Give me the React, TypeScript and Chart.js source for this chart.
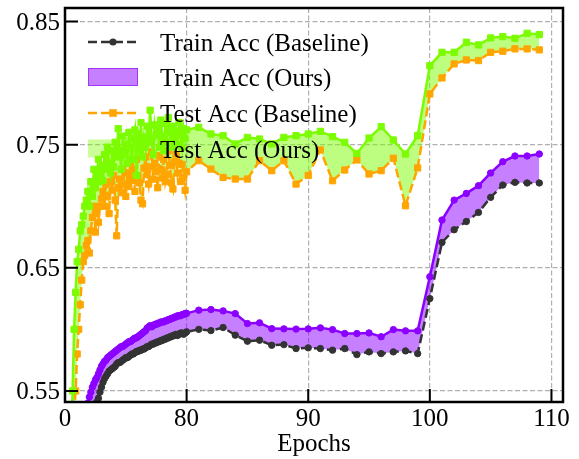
import React, { useEffect, useRef } from 'react';
import { Chart, registerables } from 'chart.js';

Chart.register(...registerables);

const FONT = 'Liberation Serif';

// epochs 1..109
const epochs: number[] = Array.from({ length: 109 }, (_, i) => i + 1);

const trainBaseline: number[] = [
  0.28, 0.33, 0.37, 0.40, 0.425, 0.445, 0.46, 0.473, 0.484, 0.493,
  0.501, 0.508, 0.514, 0.519, 0.524, 0.528, 0.531, 0.534, 0.536, 0.539,
  0.541, 0.544, 0.549, 0.553, 0.557, 0.560, 0.562, 0.564, 0.566, 0.567,
  0.568, 0.569, 0.570, 0.572, 0.573, 0.573, 0.574, 0.575, 0.576, 0.577,
  0.577, 0.578, 0.579, 0.580, 0.580, 0.581, 0.582, 0.582, 0.583, 0.583,
  0.584, 0.584, 0.585, 0.586, 0.586, 0.587, 0.588, 0.588, 0.589, 0.589,
  0.590, 0.590, 0.591, 0.591, 0.592, 0.592, 0.593, 0.593, 0.594, 0.594,
  0.595, 0.595, 0.596, 0.595, 0.596, 0.597, 0.597, 0.596, 0.597, 0.598,
  0.600, 0.599, 0.6015, 0.5953, 0.5904, 0.5912, 0.5871, 0.5876, 0.5844, 0.585,
  0.5844, 0.5831, 0.5844, 0.5795, 0.5817, 0.5803, 0.5817, 0.5825, 0.5803, 0.625,
  0.6706, 0.6809, 0.6876, 0.695, 0.7072, 0.7172, 0.7194, 0.7189, 0.7189,
];

const trainOurs: number[] = [
  0.33, 0.38, 0.42, 0.45, 0.47, 0.485, 0.498, 0.508, 0.516, 0.522,
  0.527, 0.531, 0.535, 0.538, 0.540, 0.545, 0.549, 0.553, 0.556, 0.559,
  0.561, 0.564, 0.567, 0.570, 0.572, 0.574, 0.575, 0.577, 0.578, 0.579,
  0.580, 0.581, 0.582, 0.583, 0.584, 0.585, 0.586, 0.586, 0.587, 0.588,
  0.589, 0.590, 0.590, 0.591, 0.592, 0.593, 0.593, 0.594, 0.595, 0.596,
  0.597, 0.598, 0.599, 0.601, 0.602, 0.603, 0.602, 0.603, 0.604, 0.604,
  0.605, 0.605, 0.606, 0.606, 0.606, 0.607, 0.607, 0.608, 0.608, 0.609,
  0.609, 0.610, 0.610, 0.611, 0.611, 0.611, 0.612, 0.612, 0.613, 0.613,
  0.6156, 0.6161, 0.615, 0.6128, 0.6047, 0.6053, 0.6006, 0.6004, 0.6002, 0.6004,
  0.6012, 0.5998, 0.5966, 0.5966, 0.5971, 0.594, 0.5998, 0.5988, 0.5988, 0.6427,
  0.6888, 0.705, 0.7104, 0.7167, 0.727, 0.7362, 0.7408, 0.7408, 0.7424,
];

const testBaseline: number[] = [
  0.30, 0.38, 0.44, 0.49, 0.52, 0.535, 0.55, 0.58, 0.60, 0.62,
  0.64, 0.655, 0.66, 0.668, 0.672, 0.662, 0.68, 0.691, 0.70, 0.679,
  0.695, 0.687, 0.70, 0.706, 0.712, 0.70, 0.718, 0.708, 0.694, 0.72,
  0.713, 0.725, 0.705, 0.676, 0.715, 0.722, 0.711, 0.73, 0.718, 0.708,
  0.727, 0.716, 0.735, 0.721, 0.73, 0.712, 0.738, 0.725, 0.719, 0.705,
  0.702, 0.731, 0.74, 0.726, 0.718, 0.732, 0.744, 0.722, 0.735, 0.728,
  0.715, 0.741, 0.73, 0.723, 0.738, 0.72, 0.726, 0.745, 0.733, 0.719,
  0.714, 0.736, 0.742, 0.727, 0.735, 0.72, 0.734, 0.723, 0.713, 0.728,
  0.737, 0.7302, 0.7234, 0.7221, 0.7221, 0.737, 0.7289, 0.737, 0.718, 0.725,
  0.7457, 0.7207, 0.7294, 0.7376, 0.7262, 0.7289, 0.739, 0.7004, 0.7311, 0.7912,
  0.8042, 0.8156, 0.8188, 0.8183, 0.825, 0.8259, 0.8278, 0.8278, 0.827,
];

const testOurs: number[] = [
  0.28, 0.36, 0.44, 0.51, 0.55, 0.60, 0.63, 0.655, 0.665, 0.68,
  0.685, 0.692, 0.70, 0.705, 0.712, 0.70, 0.72, 0.708, 0.73, 0.715,
  0.725, 0.738, 0.72, 0.733, 0.721, 0.742, 0.73, 0.748, 0.735, 0.727,
  0.745, 0.732, 0.752, 0.74, 0.763, 0.745, 0.73, 0.757, 0.742, 0.75,
  0.735, 0.76, 0.748, 0.738, 0.755, 0.762, 0.725, 0.759, 0.745, 0.768,
  0.74, 0.756, 0.748, 0.765, 0.752, 0.778, 0.755, 0.742, 0.766, 0.758,
  0.764, 0.748, 0.77, 0.757, 0.745, 0.767, 0.752, 0.772, 0.76, 0.748,
  0.765, 0.755, 0.761, 0.75, 0.768, 0.758, 0.748, 0.763, 0.755, 0.762,
  0.7641, 0.7587, 0.7573, 0.7506, 0.7559, 0.7546, 0.7506, 0.7559, 0.7573, 0.7587,
  0.7608, 0.7565, 0.7519, 0.7429, 0.7554, 0.7646, 0.7538, 0.7424, 0.7573, 0.8142,
  0.825, 0.825, 0.8332, 0.831, 0.8367, 0.8378, 0.8364, 0.8405, 0.8394,
];

const xTickPositions: number[] = [0, 10, 20, 30, 40];
const xTickLabels: string[] = ['0', '80', '90', '100', '110'];
const yTickValues: number[] = [0.55, 0.65, 0.75, 0.85];
const yTickLabels: string[] = ['0.55', '0.65', '0.75', '0.85'];
const legendLabels: string[] = [
  'Train Acc (Baseline)',
  'Train Acc (Ours)',
  'Test Acc (Baseline)',
  'Test Acc (Ours)',
];
const xTitle = 'Epochs';

// broken x axis: epochs 0..80 squeezed into one tick interval
const BREAK = 80;
const COMPRESS = 8;
const axisPos = (e: number) => (e <= BREAK ? e / COMPRESS : e - BREAK + BREAK / COMPRESS);

const toPoints = (vals: number[]) => epochs.map((e, i) => ({ x: axisPos(e), y: vals[i] }));

const C_BLACK = '#333333';
const C_PURPLE = '#8b00ff';
const C_PURPLE_FILL = 'rgba(139,0,255,0.5)';
const C_ORANGE = '#ffa500';
const C_GREEN = '#7cfc00';
const C_GREEN_FILL = 'rgba(124,252,0,0.5)';

const framePlugin = {
  id: 'frameAndTicks',
  afterDraw(chart: any) {
    const { ctx, chartArea } = chart;
    const { left, right, top, bottom } = chartArea;
    const xs = chart.scales.x;
    const ys = chart.scales.y;
    ctx.save();
    ctx.strokeStyle = '#000';
    ctx.lineWidth = 2;
    ctx.setLineDash([]);
    ctx.beginPath();
    yTickValues.forEach((v) => {
      const py = ys.getPixelForValue(v);
      ctx.moveTo(left, py);
      ctx.lineTo(left + 13, py);
    });
    xTickPositions.forEach((v) => {
      const px = xs.getPixelForValue(v);
      ctx.moveTo(px, bottom);
      ctx.lineTo(px, bottom - 13);
    });
    ctx.stroke();
    ctx.lineWidth = 2.5;
    ctx.strokeRect(left, top, right - left, bottom - top);
    ctx.restore();
  },
};

const legendPlugin = {
  id: 'customLegend',
  afterDraw(chart: any) {
    const ctx = chart.ctx;
    const x0 = 88;
    const x1 = 138;
    const xm = 113;
    const tx = 160;
    const rows = [42, 77, 113, 148.5];
    ctx.save();
    // row 1: dashed black line with circle
    ctx.strokeStyle = C_BLACK;
    ctx.lineWidth = 2.5;
    ctx.setLineDash([9, 4]);
    ctx.beginPath();
    ctx.moveTo(x0, rows[0]);
    ctx.lineTo(x1, rows[0]);
    ctx.stroke();
    ctx.setLineDash([]);
    ctx.fillStyle = C_BLACK;
    ctx.beginPath();
    ctx.arc(xm, rows[0], 3.6, 0, Math.PI * 2);
    ctx.fill();
    // row 2: purple patch
    ctx.fillStyle = C_PURPLE_FILL;
    ctx.fillRect(x0, rows[1] - 9, x1 - x0, 18);
    ctx.strokeStyle = 'rgba(139,0,255,0.6)';
    ctx.lineWidth = 1;
    ctx.strokeRect(x0 + 0.5, rows[1] - 8.5, x1 - x0 - 1, 17);
    // row 3: dashed orange line with square
    ctx.strokeStyle = C_ORANGE;
    ctx.lineWidth = 2.5;
    ctx.setLineDash([9, 4]);
    ctx.beginPath();
    ctx.moveTo(x0, rows[2]);
    ctx.lineTo(x1, rows[2]);
    ctx.stroke();
    ctx.setLineDash([]);
    ctx.fillStyle = C_ORANGE;
    ctx.fillRect(xm - 3.8, rows[2] - 3.8, 7.6, 7.6);
    // row 4: green patch
    ctx.fillStyle = 'rgba(124,252,0,0.4)';
    ctx.fillRect(x0, rows[3] - 9, x1 - x0, 18);
    // texts
    ctx.fillStyle = '#000';
    ctx.font = `25px "${FONT}"`;
    ctx.textAlign = 'left';
    ctx.textBaseline = 'alphabetic';
    legendLabels.forEach((t, i) => {
      ctx.fillText(t, tx, rows[i] + 9);
    });
    ctx.restore();
  },
};

export default function App() {
  const ref = useRef<HTMLCanvasElement | null>(null);

  useEffect(() => {
    if (!ref.current) return;
    const tickFont = { family: FONT, size: 25 };
    const gridOpts = { color: '#b0b0b0', lineWidth: 1.2, drawTicks: false };
    const chart = new Chart(ref.current, {
      type: 'line',
      data: {
        datasets: [
          {
            label: legendLabels[0],
            data: toPoints(trainBaseline),
            borderColor: C_BLACK,
            borderWidth: 2.5,
            borderDash: [9, 4],
            pointStyle: 'circle',
            pointRadius: 3.2,
            pointBorderWidth: 1,
            pointBackgroundColor: C_BLACK,
            pointBorderColor: C_BLACK,
            fill: false,
            tension: 0,
            order: 4,
          },
          {
            label: legendLabels[1],
            data: toPoints(trainOurs),
            borderColor: C_PURPLE,
            borderWidth: 2.5,
            backgroundColor: C_PURPLE_FILL,
            fill: { target: 0 },
            pointStyle: 'circle',
            pointRadius: 3.2,
            pointBorderWidth: 1,
            pointBackgroundColor: C_PURPLE,
            pointBorderColor: C_PURPLE,
            tension: 0,
            order: 3,
          },
          {
            label: legendLabels[2],
            data: toPoints(testBaseline),
            borderColor: C_ORANGE,
            borderWidth: 2.5,
            borderDash: [9, 4],
            pointStyle: 'rect',
            pointRadius: 4.4,
            pointBorderWidth: 1,
            pointBackgroundColor: C_ORANGE,
            pointBorderColor: C_ORANGE,
            fill: false,
            tension: 0,
            order: 2,
          },
          {
            label: legendLabels[3],
            data: toPoints(testOurs),
            borderColor: C_GREEN,
            borderWidth: 2.5,
            backgroundColor: C_GREEN_FILL,
            fill: { target: 2 },
            pointStyle: 'rect',
            pointRadius: 4.4,
            pointBorderWidth: 1,
            pointBackgroundColor: C_GREEN,
            pointBorderColor: C_GREEN,
            tension: 0,
            order: 1,
          },
        ],
      },
      options: {
        animation: false,
        responsive: false,
        events: [],
        layout: { padding: { left: 0, top: 8, right: 16, bottom: 0 } },
        plugins: {
          legend: { display: false },
          tooltip: { enabled: false },
          filler: { drawTime: 'beforeDatasetsDraw' },
        } as any,
        scales: {
          x: {
            type: 'linear',
            min: 0,
            max: 40.95,
            afterBuildTicks: (s: any) => {
              s.ticks = xTickPositions.map((v) => ({ value: v }));
            },
            afterFit: (s: any) => {
              s.height = 57;
              s.paddingLeft = 0;
              s.paddingRight = 0;
            },
            ticks: {
              callback: (_v: any, i: number) => xTickLabels[i],
              font: tickFont,
              color: '#000',
              padding: 2,
              maxRotation: 0,
              autoSkip: false,
              includeBounds: false,
            },
            grid: gridOpts,
            border: { display: false, dash: [5, 2.5] },
            title: {
              display: true,
              text: xTitle,
              font: tickFont,
              color: '#000',
              padding: { top: 0, bottom: 0 },
            },
          },
          y: {
            type: 'linear',
            min: 0.541,
            max: 0.861,
            afterBuildTicks: (s: any) => {
              s.ticks = yTickValues.map((v) => ({ value: v }));
            },
            afterFit: (s: any) => {
              s.width = 65;
              s.paddingTop = 0;
              s.paddingBottom = 0;
            },
            ticks: {
              callback: (_v: any, i: number) => yTickLabels[i],
              font: tickFont,
              color: '#000',
              padding: 5,
              labelOffset: 2,
              includeBounds: false,
            },
            grid: gridOpts,
            border: { display: false, dash: [5, 2.5] },
          },
        } as any,
      },
      plugins: [framePlugin, legendPlugin],
    } as any);
    return () => chart.destroy();
  }, []);

  return (
    <div style={{ position: 'absolute', left: 0, top: 0, width: 579, height: 459, background: '#fff' }}>
      <canvas ref={ref} width={579} height={459} />
    </div>
  );
}
